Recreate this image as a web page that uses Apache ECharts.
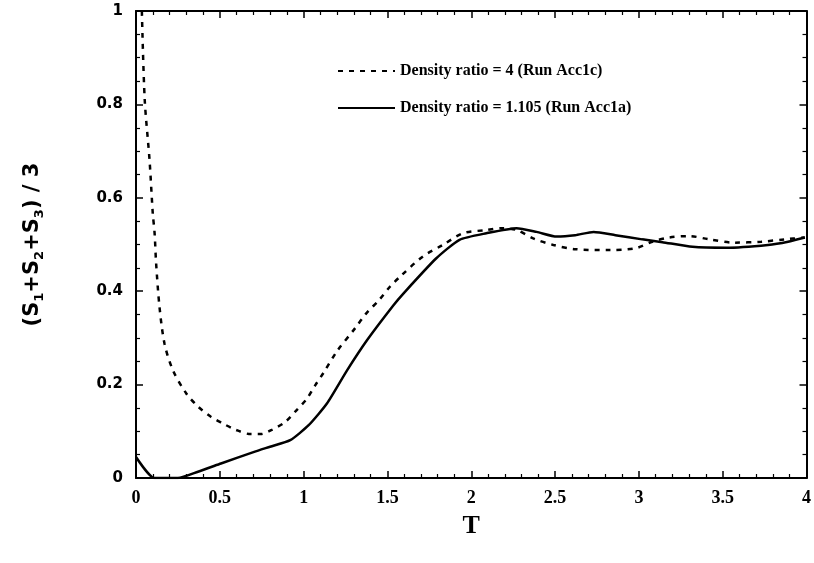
<!DOCTYPE html>
<html>
<head>
<meta charset="utf-8">
<script src="https://cdn.jsdelivr.net/npm/echarts@6/dist/echarts.min.js"></script>
<style>
  html, body { margin: 0; padding: 0; background: #fff; }
  #chart { width: 814px; height: 563px; }
</style>
</head>
<body>
<div id="chart"></div>
<script>
// Run Acc1c, density ratio = 4 (dashed)
const acc1cT = [0.035, 0.052, 0.081, 0.10, 0.111, 0.12, 0.14, 0.17, 0.22, 0.30, 0.37, 0.447, 0.517, 0.596, 0.685, 0.744, 0.81, 0.89, 0.96, 1.02, 1.07, 1.12, 1.20, 1.31, 1.37, 1.45, 1.516, 1.575, 1.71, 1.83, 1.95, 2.09, 2.18, 2.27, 2.37, 2.49, 2.62, 2.82, 2.98, 3.08, 3.18, 3.30, 3.42, 3.57, 3.73, 3.87, 3.99]
const acc1cS = [1.0, 0.81, 0.68, 0.567, 0.524, 0.46, 0.367, 0.288, 0.231, 0.181, 0.153, 0.131, 0.117, 0.103, 0.094, 0.094, 0.103, 0.12, 0.146, 0.17, 0.199, 0.226, 0.272, 0.322, 0.351, 0.381, 0.41, 0.431, 0.474, 0.499, 0.524, 0.531, 0.535, 0.531, 0.513, 0.499, 0.49, 0.488, 0.492, 0.506, 0.515, 0.518, 0.511, 0.504, 0.506, 0.511, 0.515]

// Run Acc1a, density ratio = 1.105 (solid)
const acc1aT = [0, 0.11, 0.25, 0.37, 0.507, 0.705, 0.80, 0.92, 1.03, 1.14, 1.26, 1.38, 1.536, 1.595, 1.79, 1.93, 2.09, 2.27, 2.39, 2.51, 2.62, 2.73, 2.86, 3.02, 3.14, 3.32, 3.52, 3.77, 3.89, 3.99]
const acc1aS = [0.045, 0, 0, 0.0135, 0.031, 0.056, 0.067, 0.081, 0.113, 0.16, 0.231, 0.296, 0.37, 0.395, 0.47, 0.51, 0.524, 0.535, 0.527, 0.517, 0.52, 0.527, 0.52, 0.511, 0.505, 0.495, 0.493, 0.499, 0.506, 0.515]

const seriesNames = ['Density ratio = 4 (Run Acc1c)', 'Density ratio = 1.105 (Run Acc1a)']

const serif = '"Liberation Serif", "DejaVu Serif", serif'
const sans = '"DejaVu Sans", "Liberation Sans", sans-serif'

const chart = echarts.init(document.getElementById('chart'))

function pairs(xs, ys) {
  return xs.map((x, i) => [x, ys[i]])
}

// shared look of the boxed axes, ticks pointing inside
const frameAxis = {
  axisLine: { show: true, onZero: false, lineStyle: { color: '#000', width: 2 } },
  axisTick: { show: true, inside: true, length: 7, lineStyle: { color: '#000', width: 1.5 } },
  minorTick: { show: true, length: 4, lineStyle: { color: '#000', width: 1.2 } },
  splitLine: { show: false }
}

const options = {
  animation: false,
  backgroundColor: '#fff',
  color: ['#000', '#000'],
  grid: { left: 136, right: 3, top: 11, bottom: 85 },
  legend: {
    left: 332,
    top: 58,
    orient: 'vertical',
    itemWidth: 57,
    itemHeight: 14,
    itemGap: 21,
    itemStyle: { opacity: 0 },
    textStyle: { fontFamily: serif, fontWeight: 'bold', fontSize: 16, color: '#000' },
    data: seriesNames
  },
  xAxis: [
    Object.assign({}, frameAxis, {
      type: 'value', min: 0, max: 4, interval: 0.5,
      minorTick: Object.assign({}, frameAxis.minorTick, { splitNumber: 5 }),
      axisLabel: { fontFamily: serif, fontWeight: 'bold', fontSize: 18, color: '#000', margin: 11 },
      name: 'T', nameLocation: 'middle', nameGap: 35,
      nameTextStyle: { fontFamily: serif, fontWeight: 'bold', fontSize: 26, color: '#000' }
    }),
    Object.assign({}, frameAxis, {
      type: 'value', min: 0, max: 4, interval: 0.5, position: 'top',
      minorTick: Object.assign({}, frameAxis.minorTick, { splitNumber: 5 }),
      axisLabel: { show: false }
    })
  ],
  yAxis: [
    Object.assign({}, frameAxis, {
      type: 'value', min: 0, max: 1, interval: 0.2,
      minorTick: Object.assign({}, frameAxis.minorTick, { splitNumber: 4 }),
      axisLabel: { fontFamily: sans, fontWeight: 'bold', fontSize: 15, color: '#000', margin: 13 },
      name: '(S{s|1}+S{s|2}+S{s|3}) / 3', nameLocation: 'middle', nameGap: 90,
      nameTextStyle: {
        fontFamily: sans, fontWeight: 'bold', fontSize: 21, color: '#000',
        rich: { s: { fontFamily: sans, fontWeight: 'bold', fontSize: 13, color: '#000', verticalAlign: 'bottom', padding: [14, 0, 0, 0] } }
      }
    }),
    Object.assign({}, frameAxis, {
      type: 'value', min: 0, max: 1, interval: 0.2, position: 'right',
      minorTick: Object.assign({}, frameAxis.minorTick, { splitNumber: 4 }),
      axisLabel: { show: false }
    })
  ],
  series: [
    {
      name: seriesNames[0],
      type: 'line',
      data: pairs(acc1cT, acc1cS),
      showSymbol: false,
      symbol: 'none',
      smooth: 0.3,
      clip: true,
      lineStyle: { color: '#000', width: 2.5, type: [5, 6] }
    },
    {
      name: seriesNames[1],
      type: 'line',
      data: pairs(acc1aT, acc1aS),
      showSymbol: false,
      symbol: 'none',
      smooth: 0.2,
      clip: true,
      lineStyle: { color: '#000', width: 2.5 }
    }
  ]
}

chart.setOption(options)
</script>
</body>
</html>
